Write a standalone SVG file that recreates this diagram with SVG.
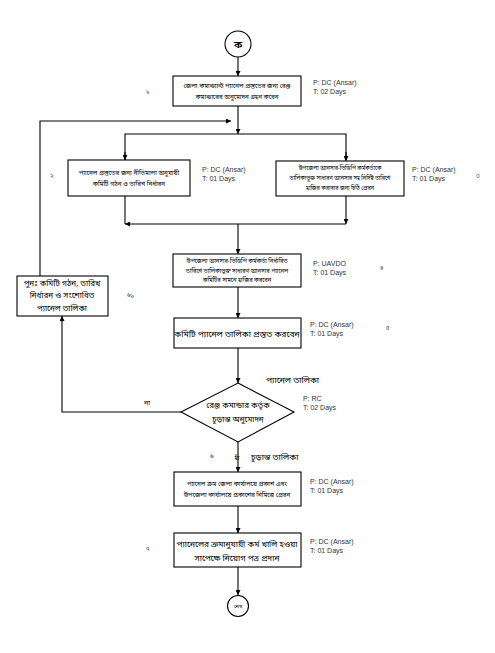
<svg xmlns="http://www.w3.org/2000/svg" width="495" height="653" viewBox="0 0 495 653">
<defs>
<marker id="ah" viewBox="0 0 10 10" refX="10" refY="5" markerWidth="5" markerHeight="5" orient="auto" markerUnits="userSpaceOnUse"><path d="M0,0 L10,5 L0,10 z" fill="#000"/></marker>
<style>
.box{fill:#fff;stroke:#000;stroke-width:1.1}
.ln{fill:none;stroke:#000;stroke-width:1.1}
.bn{font-family:"Noto Sans Bengali","Noto Serif Bengali","Lohit Bengali","Noto Sans",sans-serif;fill:#000;text-anchor:middle}
.lab{font-family:"Liberation Sans",Arial,sans-serif;font-size:7px;fill:#333}
.num{font-family:"Noto Sans Bengali","Noto Sans",sans-serif;font-size:6px;fill:#333}
</style>
</defs>
<rect width="495" height="653" fill="#fff"/>
<g id="connectors">
<path class="ln" d="M238,57 V76" marker-end="url(#ah)"/>
<path class="ln" d="M238,106 V134" marker-end="url(#ah)"/>
<path class="ln" d="M40,276 V121 H231" marker-end="url(#ah)"/>
<path class="ln" d="M125,160 V134 H346 V160"/>
<path class="ln" d="M125,152 V160" marker-end="url(#ah)"/>
<path class="ln" d="M346,152 V161" marker-end="url(#ah)"/>
<path class="ln" d="M125,196 V224"/>
<path class="ln" d="M346,224 H125" marker-end="url(#ah)"/>
<path class="ln" d="M346,196 V224" marker-end="url(#ah)"/>
<path class="ln" d="M238,224 V254" marker-end="url(#ah)"/>
<path class="ln" d="M238,287 V318" marker-end="url(#ah)"/>
<path class="ln" d="M238,348 V383" marker-end="url(#ah)"/>
<path class="ln" d="M181,412 H62 V316" marker-end="url(#ah)"/>
<path class="ln" d="M238,442 V472" marker-end="url(#ah)"/>
<path class="ln" d="M238,506 V533" marker-end="url(#ah)"/>
<path class="ln" d="M238,567 V595" marker-end="url(#ah)"/>
</g>
<g id="start">
<circle cx="238" cy="44" r="13" class="box"/>
<text x="238" y="48" class="bn" font-size="10" font-weight="bold">ক</text>
</g>
<g id="step1">
<rect x="173" y="76" width="128" height="30" class="box"/>
<text x="237" y="88" class="bn" font-size="6.3">জেলা কমান্ড্যান্ট প্যানেল প্রস্তুতের জন্য রেঞ্জ</text>
<text x="237" y="99" class="bn" font-size="6.3">কমান্ডারের অনুমোদন গ্রহন করেন</text>
<text x="313" y="85" class="lab">P: DC (Ansar)</text>
<text x="313" y="94" class="lab">T: 02 Days</text>
<text x="146" y="93" class="num">১</text>
</g>
<g id="step2">
<rect x="68" y="160" width="122" height="36" class="box"/>
<text x="129" y="175" class="bn" font-size="6.3">প্যানেল প্রস্তুতের জন্য নীতিমালা অনুযায়ী</text>
<text x="129" y="186" class="bn" font-size="6.3">কমিটি গঠন ও তারিখ নির্ধারন</text>
<text x="202" y="172" class="lab">P: DC (Ansar)</text>
<text x="202" y="181" class="lab">T: 01 Days</text>
<text x="50" y="178" class="num">২</text>
</g>
<g id="step3">
<rect x="276" y="161" width="128" height="35" class="box"/>
<text x="340" y="170" class="bn" font-size="5.5">উপজেলা আনসার-ভিডিপি কর্মকর্তাকে</text>
<text x="340" y="180" class="bn" font-size="5.5">তালিকাভুক্ত সাধারণ আনসার সহ নির্দিষ্ট তারিখে</text>
<text x="340" y="190" class="bn" font-size="5.5">হাজির করাবার জন্য চিঠি প্রেরন</text>
<text x="412" y="172" class="lab">P: DC (Ansar)</text>
<text x="412" y="181" class="lab">T: 01 Days</text>
<text x="476" y="178" class="num">৩</text>
</g>
<g id="step4">
<rect x="173" y="254" width="128" height="33" class="box"/>
<text x="237" y="263" class="bn" font-size="5.8">উপজেলা আনসার-ভিডিপি কর্মকর্তা নির্ধারিত</text>
<text x="237" y="272.5" class="bn" font-size="5.8">তারিখে তালিকাভুক্ত সাধারণ আনসার প্যানেল</text>
<text x="237" y="282" class="bn" font-size="5.8">কমিটির সামনে হাজির করবেন</text>
<text x="313" y="266" class="lab">P: UAVDO</text>
<text x="313" y="275" class="lab">T: 01 Days</text>
<text x="380" y="270" class="num">৪</text>
</g>
<g id="step5">
<rect x="174" y="318" width="127" height="30" class="box"/>
<text x="237" y="337" class="bn" font-size="8.5">কমিটি প্যানেল তালিকা প্রস্তুত করবেন</text>
<text x="310" y="327" class="lab">P: DC (Ansar)</text>
<text x="310" y="336" class="lab">T: 01 Days</text>
<text x="386" y="330" class="num">৫</text>
</g>
<g id="step61">
<rect x="17" y="276" width="91" height="40" class="box"/>
<text x="62" y="286" class="bn" font-size="8">পুনঃ  কমিটি গঠন, তারিখ</text>
<text x="62" y="298" class="bn" font-size="8">নির্ধারন ও সংশোধিত</text>
<text x="62" y="311" class="bn" font-size="8">প্যানেল তালিকা</text>
<text x="127" y="297" class="num">৬১</text>
</g>
<g id="decision">
<text x="266" y="383" class="bn" font-size="8.5" style="text-anchor:start">প্যানেল তালিকা</text>
<polygon points="238,383 294,412 238,442 181,412" class="box"/>
<text x="238" y="408" class="bn" font-size="8">রেঞ্জ কমান্ডার কর্তৃক</text>
<text x="238" y="422" class="bn" font-size="8">চূড়ান্ত অনুমোদন</text>
<text x="303" y="401" class="lab">P: RC</text>
<text x="303" y="410" class="lab">T: 02 Days</text>
<text x="147" y="405" class="bn" font-size="7">না</text>
<text x="210" y="458" class="num">৬</text>
<text x="237" y="460" class="bn" font-size="6">হাঁ</text>
<text x="251" y="460" class="bn" font-size="8.5" style="text-anchor:start">চূড়ান্ত তালিকা</text>
</g>
<g id="step6">
<rect x="174" y="472" width="127" height="34" class="box"/>
<text x="237" y="486" class="bn" font-size="6.3">প্যানেল ক্রম জেলা কার্যালয়ে প্রকাশ এবং</text>
<text x="237" y="497" class="bn" font-size="6.3">উপজেলা কার্যালয়ে প্রকাশের নিমিত্তে প্রেরন</text>
<text x="310" y="484" class="lab">P: DC (Ansar)</text>
<text x="310" y="493" class="lab">T: 01 Days</text>
</g>
<g id="step7">
<rect x="174" y="533" width="127" height="34" class="box"/>
<text x="237" y="547" class="bn" font-size="8.3">প্যানেলের ক্রমানুযায়ী কর্ম খালি হওয়া</text>
<text x="237" y="561" class="bn" font-size="8.3">সাপেক্ষে নিয়োগ পত্র প্রদান</text>
<text x="310" y="544" class="lab">P: DC (Ansar)</text>
<text x="310" y="553" class="lab">T: 01 Days</text>
<text x="146" y="551" class="num">৭</text>
</g>
<g id="end">
<circle cx="238" cy="606" r="10.5" class="box"/>
<text x="238" y="608" class="bn" font-size="5">শেষ</text>
</g>
</svg>
